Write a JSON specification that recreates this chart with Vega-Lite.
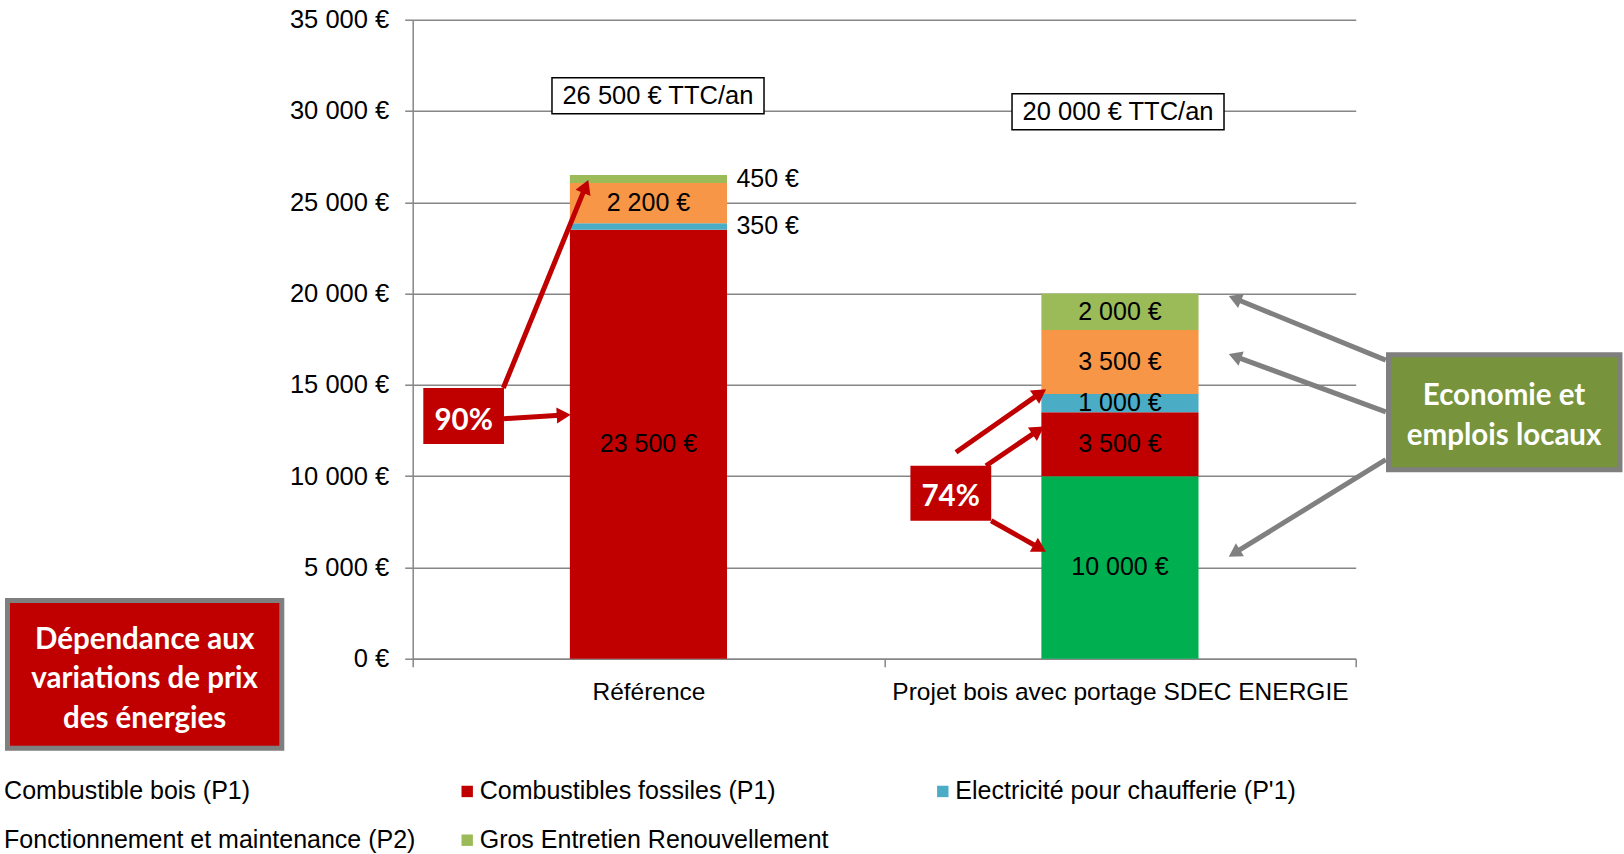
{
  "$schema": "https://vega.github.io/schema/vega-lite/v6.json",
  "width": 943,
  "height": 639,
  "autosize": {"type": "none"},
  "padding": {"left": 412.7, "top": 19.7, "right": 268.3, "bottom": 195.3},
  "background": "white",
  "config": {
    "font": "Liberation Sans",
    "view": {"stroke": null},
    "locale": {"number": {"decimal": ",", "thousands": " ", "grouping": [3], "currency": ["", " €"]}}
  },
  "datasets": {
    "bars": [
      {"cat": "Référence", "comp": "Combustibles fossiles (P1)", "value": 23500},
      {"cat": "Référence", "comp": "Electricité pour chaufferie (P'1)", "value": 350},
      {"cat": "Référence", "comp": "Fonctionnement et maintenance (P2)", "value": 2200},
      {"cat": "Référence", "comp": "Gros Entretien Renouvellement", "value": 450},
      {"cat": "Projet bois avec portage SDEC ENERGIE", "comp": "Combustible bois (P1)", "value": 10000},
      {"cat": "Projet bois avec portage SDEC ENERGIE", "comp": "Combustibles fossiles (P1)", "value": 3500},
      {"cat": "Projet bois avec portage SDEC ENERGIE", "comp": "Electricité pour chaufferie (P'1)", "value": 1000},
      {"cat": "Projet bois avec portage SDEC ENERGIE", "comp": "Fonctionnement et maintenance (P2)", "value": 3500},
      {"cat": "Projet bois avec portage SDEC ENERGIE", "comp": "Gros Entretien Renouvellement", "value": 2000}
    ],
    "frames": [
      {"kind": "total", "x": 0.2954, "x2": 0.7451, "y": 31821, "y2": 29850},
      {"kind": "total", "x": 1.2711, "x2": 1.7207, "y": 30945, "y2": 28973},
      {"kind": "risk", "x": -0.8594, "x2": -0.2776, "y": 3188, "y2": -4902},
      {"kind": "local", "x": 2.0696, "x2": 2.5605, "y": 16650, "y2": 10352},
      {"kind": "pct", "x": 0.0225, "x2": 0.1936, "y": 14826, "y2": 11759},
      {"kind": "pct", "x": 1.0556, "x2": 1.227, "y": 10571, "y2": 7558}
    ],
    "arrows": [
      {"kind": "red", "x": 0.1922, "y": 14826, "x2": 0.3668, "y2": 25869, "angle": 22},
      {"kind": "red", "x": 0.1936, "y": 13145, "x2": 0.3203, "y2": 13342, "angle": 87},
      {"kind": "red", "x": 1.1523, "y": 11305, "x2": 1.331, "y2": 14546, "angle": 55},
      {"kind": "red", "x": 1.2159, "y": 10571, "x2": 1.3266, "y2": 12508, "angle": 56},
      {"kind": "red", "x": 1.2269, "y": 7558, "x2": 1.3302, "y2": 6049, "angle": 120},
      {"kind": "grey", "x": 2.0638, "y": 16354, "x2": 1.7437, "y2": 19726, "angle": 292},
      {"kind": "grey", "x": 2.0638, "y": 13517, "x2": 1.7439, "y2": 16561, "angle": 290},
      {"kind": "grey", "x": 2.0638, "y": 10905, "x2": 1.7426, "y2": 5777, "angle": 238}
    ],
    "notes": [
      {"kind": "total", "t": "26 500 € TTC/an", "x": 0.52, "y": 30836},
      {"kind": "total", "t": "20 000 € TTC/an", "x": 1.496, "y": 29959},
      {"kind": "white", "t": "Dépendance aux\nvariations de prix\ndes énergies", "x": -0.5686, "y": 1050},
      {"kind": "white", "t": "Economie et\nemplois locaux", "x": 2.3147, "y": 14380},
      {"kind": "white", "t": "90%", "x": 0.108, "y": 13015},
      {"kind": "white", "t": "74%", "x": 1.141, "y": 8873}
    ]
  },
  "layer": [
    {
      "data": {"name": "bars"},
      "transform": [
        {"stack": "value", "groupby": ["cat"], "sort": [{"field": "comp", "order": "ascending"}], "as": ["v0", "v1"]},
        {"calculate": "(datum.v0 + datum.v1) / 2", "as": "mid"}
      ],
      "encoding": {
        "x": {
          "field": "cat", "type": "nominal",
          "sort": ["Référence", "Projet bois avec portage SDEC ENERGIE"],
          "scale": {"paddingInner": 0, "paddingOuter": 0},
          "axis": {
            "title": null, "labelAngle": 0, "labelFontSize": 24.5, "labelColor": "#000000", "labelLimit": 800,
            "tickBand": "extent", "tickSize": 8, "tickColor": "#868686", "tickWidth": 1.5,
            "domainColor": "#868686", "domainWidth": 1.5, "labelPadding": 14, "grid": false
          }
        }
      },
      "layer": [
        {
          "mark": {"type": "bar", "width": {"band": 0.3333}},
          "encoding": {
            "y": {
              "field": "v1", "type": "quantitative",
              "scale": {"domain": [0, 35000], "nice": false},
              "axis": {
                "values": [0, 5000, 10000, 15000, 20000, 25000, 30000, 35000],
                "format": "$,.0f", "title": null, "labelFontSize": 25.5, "labelColor": "#000000",
                "labelPadding": 16, "tickSize": 8, "tickColor": "#868686", "tickWidth": 1.5,
                "domainColor": "#868686", "domainWidth": 1.5,
                "grid": true, "gridColor": "#868686", "gridWidth": 1.5
              }
            },
            "y2": {"field": "v0"},
            "color": {
              "field": "comp", "type": "nominal",
              "scale": {
                "domain": ["Combustible bois (P1)", "Combustibles fossiles (P1)", "Electricité pour chaufferie (P'1)", "Fonctionnement et maintenance (P2)", "Gros Entretien Renouvellement"],
                "range": ["#00B050", "#C00000", "#4BACC6", "#F79646", "#9BBB59"]
              },
              "legend": {
                "orient": "none", "legendX": -433.6, "legendY": 759, "direction": "horizontal",
                "columns": 3, "gridAlign": "all", "columnPadding": 38.6, "rowPadding": 23,
                "symbolType": "square", "symbolSize": 130, "symbolStrokeWidth": 0,
                "labelFontSize": 25, "labelColor": "#000000", "labelOffset": 0, "labelLimit": 1000,
                "title": null, "padding": 0
              }
            }
          }
        },
        {
          "transform": [{"filter": "datum.value >= 1000"}],
          "mark": {"type": "text", "fontSize": 25, "color": "#000000", "align": "center", "baseline": "middle"},
          "encoding": {
            "y": {"field": "mid", "type": "quantitative", "scale": {"domain": [0, 35000], "nice": false}},
            "text": {"field": "value", "format": "$,.0f"}
          }
        },
        {
          "transform": [{"filter": "datum.value < 1000"}],
          "mark": {"type": "text", "fontSize": 25, "color": "#000000", "align": "left", "baseline": "middle", "dx": 88},
          "encoding": {
            "y": {"field": "mid", "type": "quantitative", "scale": {"domain": [0, 35000], "nice": false}},
            "text": {"field": "value", "format": "$,.0f"}
          }
        }
      ]
    },
    {
      "layer": [
        {
          "data": {"name": "arrows"},
          "transform": [{"filter": "datum.kind === 'red'"}],
          "mark": {"type": "rule", "color": "#C00000", "strokeWidth": 5, "strokeCap": "butt"},
          "encoding": {
            "x": {"field": "x", "type": "quantitative", "scale": {"domain": [0, 2], "nice": false, "zero": false}, "axis": null},
            "x2": {"field": "x2"},
            "y": {"field": "y", "type": "quantitative", "scale": {"domain": [0, 35000], "nice": false}, "axis": null},
            "y2": {"field": "y2"}
          }
        },
        {
          "data": {"name": "arrows"},
          "transform": [{"filter": "datum.kind === 'red'"}],
          "mark": {"type": "point", "shape": "triangle-up", "filled": true, "color": "#C00000", "size": 260, "opacity": 1},
          "encoding": {
            "x": {"field": "x2", "type": "quantitative", "scale": {"domain": [0, 2], "nice": false, "zero": false}, "axis": null},
            "y": {"field": "y2", "type": "quantitative", "scale": {"domain": [0, 35000], "nice": false}, "axis": null},
            "angle": {"field": "angle", "type": "quantitative", "scale": null}
          }
        },
        {
          "data": {"name": "arrows"},
          "transform": [{"filter": "datum.kind === 'grey'"}],
          "mark": {"type": "rule", "color": "#808080", "strokeWidth": 5, "strokeCap": "butt"},
          "encoding": {
            "x": {"field": "x", "type": "quantitative", "scale": {"domain": [0, 2], "nice": false, "zero": false}, "axis": null},
            "x2": {"field": "x2"},
            "y": {"field": "y", "type": "quantitative", "scale": {"domain": [0, 35000], "nice": false}, "axis": null},
            "y2": {"field": "y2"}
          }
        },
        {
          "data": {"name": "arrows"},
          "transform": [{"filter": "datum.kind === 'grey'"}],
          "mark": {"type": "point", "shape": "triangle-up", "filled": true, "color": "#808080", "size": 230, "opacity": 1},
          "encoding": {
            "x": {"field": "x2", "type": "quantitative", "scale": {"domain": [0, 2], "nice": false, "zero": false}, "axis": null},
            "y": {"field": "y2", "type": "quantitative", "scale": {"domain": [0, 35000], "nice": false}, "axis": null},
            "angle": {"field": "angle", "type": "quantitative", "scale": null}
          }
        },
        {
          "data": {"name": "frames"},
          "transform": [{"filter": "datum.kind === 'total'"}],
          "mark": {"type": "rect", "fill": "#FFFFFF", "stroke": "#000000", "strokeWidth": 1.5},
          "encoding": {
            "x": {"field": "x", "type": "quantitative", "scale": {"domain": [0, 2], "nice": false, "zero": false}, "axis": null},
            "x2": {"field": "x2"},
            "y": {"field": "y", "type": "quantitative", "scale": {"domain": [0, 35000], "nice": false}, "axis": null},
            "y2": {"field": "y2"}
          }
        },
        {
          "data": {"name": "frames"},
          "transform": [{"filter": "datum.kind === 'risk'"}],
          "mark": {"type": "rect", "fill": "#C00000", "stroke": "#7F7F7F", "strokeWidth": 5},
          "encoding": {
            "x": {"field": "x", "type": "quantitative", "scale": {"domain": [0, 2], "nice": false, "zero": false}, "axis": null},
            "x2": {"field": "x2"},
            "y": {"field": "y", "type": "quantitative", "scale": {"domain": [0, 35000], "nice": false}, "axis": null},
            "y2": {"field": "y2"}
          }
        },
        {
          "data": {"name": "frames"},
          "transform": [{"filter": "datum.kind === 'local'"}],
          "mark": {"type": "rect", "fill": "#77933C", "stroke": "#7F7F7F", "strokeWidth": 5},
          "encoding": {
            "x": {"field": "x", "type": "quantitative", "scale": {"domain": [0, 2], "nice": false, "zero": false}, "axis": null},
            "x2": {"field": "x2"},
            "y": {"field": "y", "type": "quantitative", "scale": {"domain": [0, 35000], "nice": false}, "axis": null},
            "y2": {"field": "y2"}
          }
        },
        {
          "data": {"name": "frames"},
          "transform": [{"filter": "datum.kind === 'pct'"}],
          "mark": {"type": "rect", "fill": "#C00000"},
          "encoding": {
            "x": {"field": "x", "type": "quantitative", "scale": {"domain": [0, 2], "nice": false, "zero": false}, "axis": null},
            "x2": {"field": "x2"},
            "y": {"field": "y", "type": "quantitative", "scale": {"domain": [0, 35000], "nice": false}, "axis": null},
            "y2": {"field": "y2"}
          }
        },
        {
          "data": {"name": "notes"},
          "transform": [{"filter": "datum.kind === 'total'"}],
          "mark": {"type": "text", "fontSize": 25.5, "color": "#000000", "align": "center", "baseline": "middle"},
          "encoding": {
            "x": {"field": "x", "type": "quantitative", "scale": {"domain": [0, 2], "nice": false, "zero": false}, "axis": null},
            "y": {"field": "y", "type": "quantitative", "scale": {"domain": [0, 35000], "nice": false}, "axis": null},
            "text": {"field": "t"}
          }
        },
        {
          "data": {"name": "notes"},
          "transform": [{"filter": "datum.kind === 'white'"}],
          "mark": {"type": "text", "font": "Lato", "fontWeight": "bold", "fontSize": 29.5, "color": "#FFFFFF", "align": "center", "baseline": "middle", "lineBreak": "\n", "lineHeight": 39.5},
          "encoding": {
            "x": {"field": "x", "type": "quantitative", "scale": {"domain": [0, 2], "nice": false, "zero": false}, "axis": null},
            "y": {"field": "y", "type": "quantitative", "scale": {"domain": [0, 35000], "nice": false}, "axis": null},
            "text": {"field": "t"}
          }
        }
      ]
    }
  ],
  "resolve": {"scale": {"x": "independent"}, "axis": {"x": "independent", "y": "independent"}}
}
